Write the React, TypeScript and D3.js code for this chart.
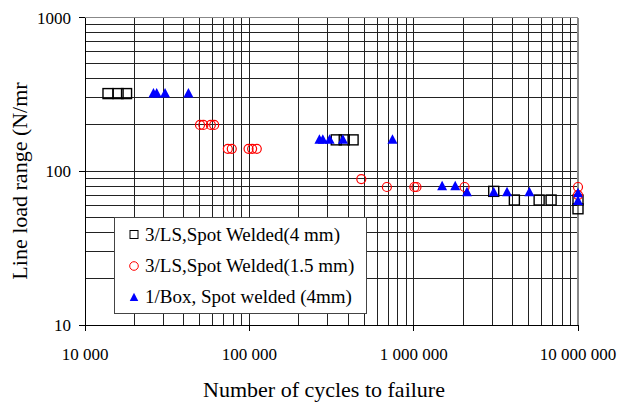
import React from "react";
import * as d3 from "d3";

const squareN = [13800, 15900, 17900, 338000, 378000, 428000, 3070000, 4100000, 5800000, 6860000, 10000000, 10000000];
const squareS = [320, 320, 320, 160, 160, 160, 74, 65, 65, 65, 65, 57];

const circleN = [50100, 52500, 58300, 61100, 74000, 78200, 98900, 104000, 111000, 480000, 687000, 1010000, 1040000, 2040000, 10000000, 10000000];
const circleS = [200, 200, 200, 200, 140, 140, 140, 140, 140, 89, 79, 79, 79, 79, 79, 70];

const triN = [26100, 27300, 30700, 42600, 267000, 280000, 308000, 371000, 743000, 1490000, 1790000, 2110000, 3070000, 3700000, 5060000, 10000000, 10000000];
const triS = [320, 320, 320, 320, 160, 160, 160, 160, 160, 80, 80, 73, 73, 73, 73, 72, 64];

const xTicks = [10000, 100000, 1000000, 10000000];
const xTickLabels = ["10 000", "100 000", "1 000 000", "10 000 000"];
const yTicks = [10, 100, 1000];
const yTickLabels = ["10", "100", "1000"];

const legendLabels = ["3/LS,Spot Welded(4 mm)", "3/LS,Spot Welded(1.5 mm)", "1/Box, Spot welded (4mm)"];

const W = 617;
const H = 402;
const FONT = "'Liberation Serif', 'Times New Roman', serif";

export default function App() {
  const x = d3.scaleLog().domain([1e4, 1e7]).range([85, 578]);
  const y = d3.scaleLog().domain([10, 1000]).range([325, 17.5]);

  const xGrid: number[] = [];
  for (let d = 1e4; d < 1e7; d *= 10) for (let k = 2; k <= 9; k++) xGrid.push(d * k);
  const yGrid: number[] = [];
  for (let d = 10; d < 1000; d *= 10) for (let k = 2; k <= 9; k++) yGrid.push(d * k);

  const [x0, x1] = x.range();
  const [y0, y1] = y.range();

  const tri = (cx: number, cy: number, s: number) =>
    `M${cx},${cy - s * 0.55}L${cx + s / 2},${cy + s * 0.4}L${cx - s / 2},${cy + s * 0.4}Z`;

  return (
    <svg width={W} height={H} style={{ position: "absolute", left: 0, top: 0, background: "#fff" }} fontFamily={FONT}>
      <rect x={0} y={0} width={W} height={H} fill="#fff" />
      {/* grid */}
      <g stroke="#222" strokeWidth={1} shapeRendering="crispEdges">
        {xGrid.map((v, i) => (
          <line key={"xg" + i} x1={x(v)} x2={x(v)} y1={y1} y2={y0} />
        ))}
        {yGrid.map((v, i) => (
          <line key={"yg" + i} x1={x0} x2={x1} y1={y(v)} y2={y(v)} />
        ))}
        {xTicks.map((v, i) => (
          <line key={"xm" + i} x1={x(v)} x2={x(v)} y1={y1} y2={y0} />
        ))}
        {yTicks.map((v, i) => (
          <line key={"ym" + i} x1={x0} x2={x1} y1={y(v)} y2={y(v)} />
        ))}
      </g>
      {/* border */}
      <g shapeRendering="crispEdges">
        <line x1={x0} x2={x1} y1={y1} y2={y1} stroke="#888" strokeWidth={1.5} />
        <line x1={x1} x2={x1} y1={y1} y2={y0} stroke="#888" strokeWidth={1.5} />
        <line x1={x0} x2={x0} y1={y1} y2={y0} stroke="#000" strokeWidth={1} />
        <line x1={x0} x2={x1} y1={y0} y2={y0} stroke="#000" strokeWidth={1} />
        {xTicks.map((v, i) => (
          <line key={"xt" + i} x1={x(v)} x2={x(v)} y1={y0} y2={y0 + 6} stroke="#000" />
        ))}
        {yTicks.map((v, i) => (
          <line key={"yt" + i} x1={x0 - 6} x2={x0} y1={y(v)} y2={y(v)} stroke="#000" />
        ))}
      </g>
      {/* tick labels */}
      {xTicks.map((v, i) => (
        <text key={"xl" + i} x={x(v)} y={360} textAnchor="middle" fontSize={17} fill="#000">
          {xTickLabels[i]}
        </text>
      ))}
      {yTicks.map((v, i) => (
        <text key={"yl" + i} x={71} y={y(v) + 6} textAnchor="end" fontSize={17} fill="#000">
          {yTickLabels[i]}
        </text>
      ))}
      {/* axis titles */}
      <text x={324} y={397} textAnchor="middle" fontSize={22} fill="#000">
        Number of cycles to failure
      </text>
      <text transform="translate(26.5,181) rotate(-90)" textAnchor="middle" fontSize={22} fill="#000">
        Line load range (N/mr
      </text>
      {/* data */}
      <g>
        {squareN.map((n, i) => (
          <rect key={"sq" + i} x={x(n) - 5} y={y(squareS[i]) - 5} width={10} height={10} fill="none" stroke="#000" strokeWidth={1.4} />
        ))}
        {circleN.map((n, i) => (
          <circle key={"ci" + i} cx={x(n)} cy={y(circleS[i])} r={4.5} fill="none" stroke="#f00" strokeWidth={1.2} />
        ))}
        {triN.map((n, i) => (
          <path key={"tr" + i} d={tri(x(n), y(triS[i]), 10)} fill="#00f" />
        ))}
      </g>
      {/* legend */}
      <g>
        <rect x={114} y={217} width={252} height={96} fill="#fff" stroke="#444" strokeWidth={1} shapeRendering="crispEdges" />
        <rect x={130} y={230.5} width={8} height={8} fill="none" stroke="#000" strokeWidth={1} />
        <circle cx={134} cy={266} r={4.3} fill="none" stroke="#f00" strokeWidth={1} />
        <path d={tri(134, 297.5, 8.5)} fill="#00f" />
        {legendLabels.map((t, i) => (
          <text key={"lg" + i} x={145} y={240.5 + i * 31} fontSize={19} fill="#000">
            {t}
          </text>
        ))}
      </g>
    </svg>
  );
}
